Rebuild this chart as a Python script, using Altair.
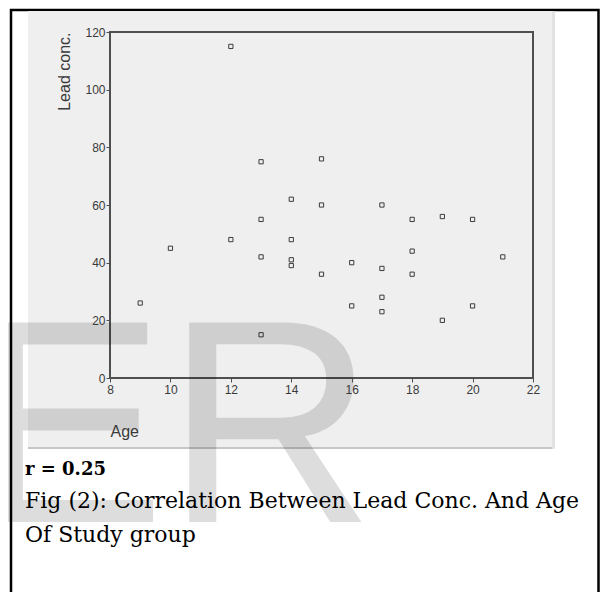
import altair as alt
import pandas as pd

# ---- data ----
age = [9, 10, 12, 12, 13, 13, 13, 13, 14, 14, 14, 14, 15, 15, 15, 16, 16,
       17, 17, 17, 17, 18, 18, 18, 19, 19, 20, 20, 21]
lead = [26, 45, 115, 48, 75, 55, 42, 15, 62, 48, 41, 39, 76, 60, 36, 40, 25,
        60, 38, 28, 23, 55, 44, 36, 56, 20, 55, 25, 42]
x_ticks = [8, 10, 12, 14, 16, 18, 20, 22]
y_ticks = [0, 20, 40, 60, 80, 100, 120]
x_title = "Age"
y_title = "Lead conc."
r_text = "r = 0.25"
caption_1 = "Fig (2): Correlation Between Lead Conc. And Age"
caption_2 = "Of Study group"
watermark = "ER"

df = pd.DataFrame({"Age": age, "Lead": lead})
one = pd.DataFrame({"k": [0]})

W, H = 423, 346
AX = "#4f4f4f"
LBL = "#3a3a3a"

outer_frame = alt.Chart(one).mark_rect(
    fillOpacity=0, stroke="black", strokeWidth=2.5
).encode(x=alt.value(-99), x2=alt.value(488.5), y=alt.value(-22), y2=alt.value(640))

panel = alt.Chart(one).mark_rect(fill="#efefef").encode(
    x=alt.value(-82), x2=alt.value(442), y=alt.value(-21), y2=alt.value(415))
panel_bottom = alt.Chart(one).mark_rect(fill="#c6c6c6").encode(
    x=alt.value(-82), x2=alt.value(442), y=alt.value(415), y2=alt.value(417))
panel_right = alt.Chart(one).mark_rect(fill="#e2e2e2").encode(
    x=alt.value(442), x2=alt.value(445), y=alt.value(-21), y2=alt.value(417))

plot_frame = alt.Chart(one).mark_rect(
    fillOpacity=0, stroke=AX, strokeWidth=2
).encode(x=alt.value(0), x2=alt.value(W), y=alt.value(0), y2=alt.value(H))

points = alt.Chart(df).mark_point(
    shape="square", filled=False, size=18, color="#3c3c3c", strokeWidth=1, opacity=1
).encode(
    x=alt.X("Age:Q",
            scale=alt.Scale(domain=[8, 22], nice=False, zero=False),
            axis=alt.Axis(values=x_ticks, title=x_title, grid=False, domain=False,
                          tickSize=4, tickColor=AX, labelFlush=False, labelOverlap=False,
                          labelFont="Liberation Sans", labelFontSize=12, labelColor=LBL,
                          labelPadding=2,
                          titleFont="Liberation Sans", titleFontSize=16,
                          titleFontWeight="normal", titleColor=LBL,
                          titleX=0, titleY=53, titleAlign="left",
                          titleBaseline="middle", zindex=1)),
    y=alt.Y("Lead:Q",
            scale=alt.Scale(domain=[0, 120], nice=False),
            axis=alt.Axis(values=y_ticks, title=y_title, grid=False, domain=False,
                          tickSize=4, tickColor=AX, labelOverlap=False,
                          labelFont="Liberation Sans", labelFontSize=12, labelColor=LBL,
                          labelPadding=1,
                          titleFont="Liberation Sans", titleFontSize=16,
                          titleFontWeight="normal", titleColor=LBL,
                          titleX=-46, titleY=0, titleAngle=270, titleAlign="right",
                          titleBaseline="middle", zindex=1)),
)

r_mark = alt.Chart(one).mark_text(
    text=r_text, font="DejaVu Serif", fontSize=18, fontWeight="bold",
    align="left", baseline="alphabetic", color="black"
).encode(x=alt.value(-85), y=alt.value(443))

cap1 = alt.Chart(one).mark_text(
    text=caption_1, font="DejaVu Serif", fontSize=22,
    align="left", baseline="alphabetic", color="black"
).encode(x=alt.value(-85), y=alt.value(476))

cap2 = alt.Chart(one).mark_text(
    text=caption_2, font="DejaVu Serif", fontSize=22,
    align="left", baseline="alphabetic", color="black"
).encode(x=alt.value(-85), y=alt.value(510))

wm = alt.Chart(one).mark_text(
    text=watermark, font="Liberation Sans", fontSize=290,
    align="left", baseline="alphabetic", color="black", opacity=0.13
).encode(x=alt.value(-138), y=alt.value(490))

chart = alt.layer(
    outer_frame, panel, panel_bottom, panel_right, plot_frame, points,
    r_mark, cap1, cap2, wm
).properties(
    width=W, height=H,
    padding={"left": 102, "top": 24, "right": 67, "bottom": 214},
    autosize=alt.AutoSizeParams(type="none"),
).configure_view(stroke="transparent")

chart.save("out.html", embed_options={"renderer": "svg", "actions": False})
